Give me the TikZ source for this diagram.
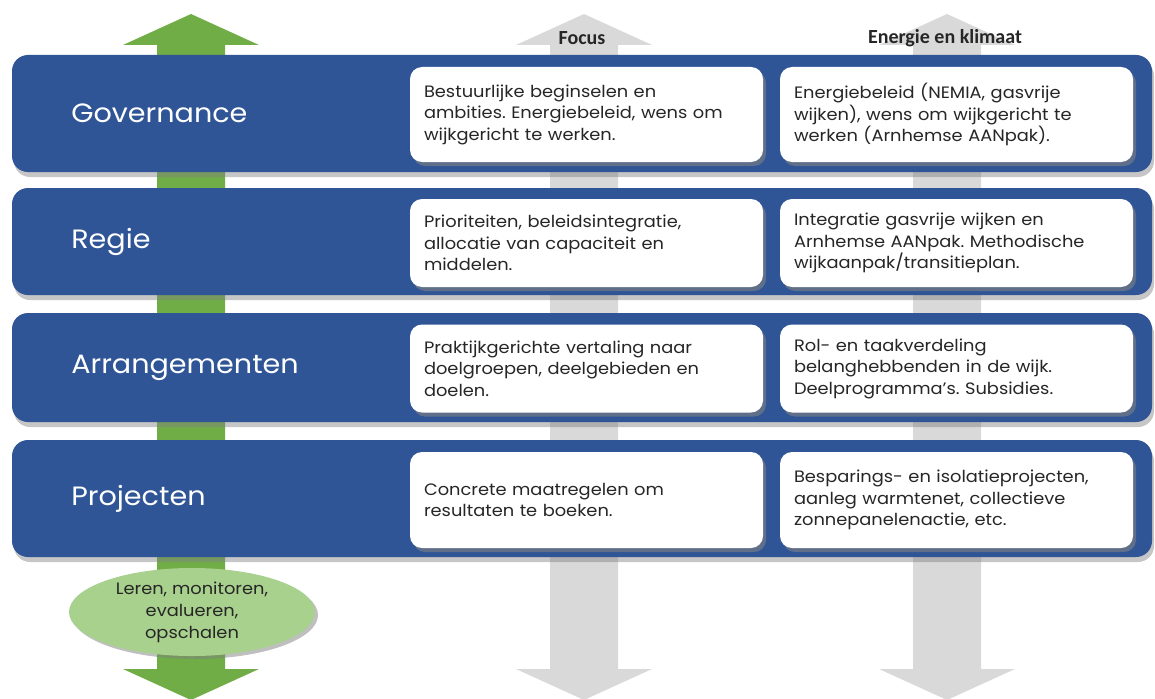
\documentclass[tikz,border=0pt]{standalone}
\usepackage{fontspec}
\setmainfont[FakeStretch=1.08]{Poppins}
\newfontfamily\headfont{Carlito}
\usetikzlibrary{shadows,shapes.geometric}
\definecolor{bandblue}{HTML}{2F5597}
\definecolor{arrowgreen}{HTML}{70AD47}
\definecolor{lightgreen}{HTML}{A9D18E}
\definecolor{arrowgrey}{HTML}{D9D9D9}
\definecolor{textdark}{HTML}{262626}
\tikzstyle{band}=[rectangle,rounded corners=16pt,fill=bandblue,minimum width=1140pt,inner sep=0pt,drop shadow={opacity=0.45,shadow xshift=2pt,shadow yshift=-5pt}]
\tikzstyle{cell}=[rectangle,rounded corners=12pt,fill=white,minimum width=353pt,text width=325pt,inner sep=0pt,align=left,text=textdark,font=\fontsize{16.5}{21.5}\selectfont,drop shadow={opacity=0.6,shadow xshift=3pt,shadow yshift=-4pt}]
\tikzstyle{title}=[white,anchor=west,font=\fontsize{26.5}{32}\selectfont]
\tikzstyle{head}=[text=textdark,font=\headfont\bfseries\fontsize{20}{24}\selectfont]

\begin{document}
\frenchspacing
\begin{tikzpicture}[x=1pt,y=-1pt]
				\useasboundingbox (0,0) rectangle (1155,698);

				% First we draw the long arrows behind the bands
				\foreach \x/\col in {191/arrowgreen, 584/arrowgrey, 947/arrowgrey}
				\fill[\col] (\x-34,45) -- (\x-68,45) -- (\x,14) -- (\x+68,45) -- (\x+34,45)
					-- (\x+34,669) -- (\x+68,669) -- (\x,700) -- (\x-68,669) -- (\x-34,669) -- cycle;

				\node[head] (focus) at (582,38) {Focus};
				\node[head] (klimaat) at (945,38) {Energie en klimaat};

				% Then the bands with their titles
				\foreach \name/\y/\h/\label in {gov/113.5/117/Governance, regie/241.5/107/Regie,
										arr/367.5/109/Arrangementen, proj/498.5/117/Projecten}
				{
				\node[band, minimum height=\h pt] (\name) at (582,\y) {};
				\node[title] (\name-t) at ([xshift=56pt]\name.west) {\label};
				}

				% Cells of the two columns
				\node[cell, minimum height=95pt] (gov-f) at (586.5,114.5) {Bestuurlijke beginselen en\\ambities. Energiebeleid, wens om\\wijkgericht te werken.};
				\node[cell, minimum height=95pt] (gov-e) at (956.5,114.5) {Energiebeleid (NEMIA, gasvrije\\wijken), wens om wijkgericht te\\werken (Arnhemse AANpak).};
				\node[cell, minimum height=88pt] (regie-f) at (586.5,243) {Prioriteiten, beleidsintegratie,\\allocatie van capaciteit en\\middelen.};
				\node[cell, minimum height=88pt] (regie-e) at (956.5,243) {Integratie gasvrije wijken en\\Arnhemse AANpak. Methodische\\wijkaanpak/transitieplan.};
				\node[cell, minimum height=88pt] (arr-f) at (586.5,368.5) {Praktijkgerichte vertaling naar\\doelgroepen, deelgebieden en\\doelen.};
				\node[cell, minimum height=88pt] (arr-e) at (956.5,368.5) {Rol- en taakverdeling\\belanghebbenden in de wijk.\\Deelprogramma’s. Subsidies.};
				\node[cell, minimum height=96pt] (proj-f) at (586.5,500) {Concrete maatregelen om\\resultaten te boeken.};
				\node[cell, minimum height=96pt] (proj-e) at (956.5,500) {Besparings- en isolatieprojecten,\\aanleg warmtenet, collectieve\\zonnepanelenactie, etc.};

				% Learning loop under the bands
				\node[ellipse, fill=lightgreen, minimum width=246pt, minimum height=88pt, inner sep=0pt, align=center,
					text=textdark, font=\fontsize{16.5}{22}\selectfont, drop shadow={opacity=0.5,shadow xshift=3pt,shadow yshift=-3pt}]
					(leren) at (192,612) {Leren, monitoren,\\evalueren,\\opschalen};

			\end{tikzpicture}
\end{document}
